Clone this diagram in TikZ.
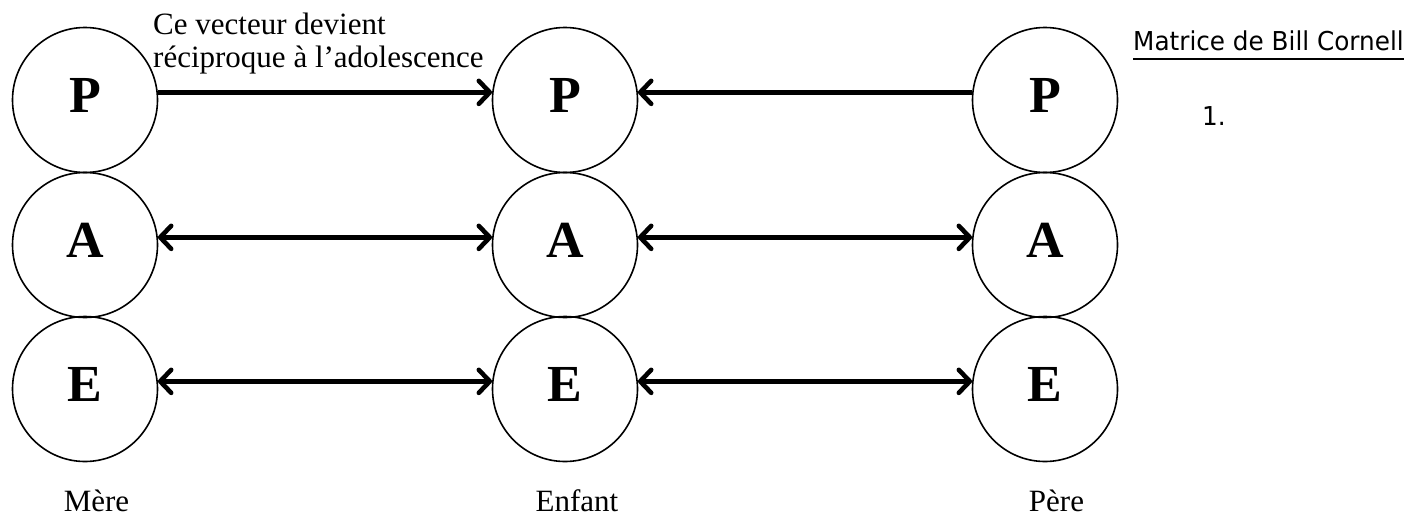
\documentclass[tikz,border=0pt]{standalone}
\usepackage{fontspec}
\setmainfont{Liberation Serif}
\newfontfamily\sansfam[FakeStretch=0.95]{DejaVu Sans}
\usetikzlibrary{arrows.meta}
\begin{document}
\begin{tikzpicture}[x=1pt,y=-1pt,
  barb/.tip={Straight Barb[length=11pt,width=23pt,round]},
  ego/.style={circle,draw,line width=1.6pt,minimum size=145pt,inner sep=0pt,
    font=\fontsize{52}{52}\selectfont\bfseries,text depth=9pt},
  oneway/.style={line width=4.6pt,-barb},
  twoway/.style={line width=4.6pt,barb-barb},
  caption/.style={font=\fontsize{31}{36}\selectfont,inner sep=0pt},
  sidetext/.style={font=\sansfam\fontsize{26}{32}\selectfont,inner sep=0pt}]
\useasboundingbox (0,0) rectangle (1416,517);

% three ego-state columns: mother, child, father
\foreach \col/\x in {M/85,C/565,F/1045}{
  \node[ego] (\col P) at (\x,100) {P};
  \node[ego] (\col A) at (\x,245) {A};
  \node[ego] (\col E) at (\x,389) {E};
}

% transactions between the columns
\draw[oneway] (MP.6) -- (CP.174);
\draw[oneway] (FP.174) -- (CP.6);
\draw[twoway] (MA.6) -- (CA.174);
\draw[twoway] (CA.6) -- (FA.174);
\draw[twoway] (ME.6) -- (CE.174);
\draw[twoway] (CE.6) -- (FE.174);

% note above the top arrow
\node[caption,anchor=base west] (note1) at (153,34) {Ce vecteur devient};
\node[caption,anchor=base west] (note2) at (153,67) {réciproque à l’adolescence};

% column captions
\node[caption,anchor=base] (mere) at (96.5,511) {Mère};
\node[caption,anchor=base] (enfant) at (577,511) {Enfant};
\node[caption,anchor=base] (pere) at (1056.5,511) {Père};

% title and numbering on the right
\node[sidetext,anchor=base west] (title) at (1133,50) {Matrice de Bill Cornell};
\draw[line width=1.8pt] ([yshift=-9pt]title.base west) -- ([yshift=-9pt]title.base east);
\node[sidetext,anchor=base west] (num) at (1202,125) {1.};
\end{tikzpicture}
\end{document}
